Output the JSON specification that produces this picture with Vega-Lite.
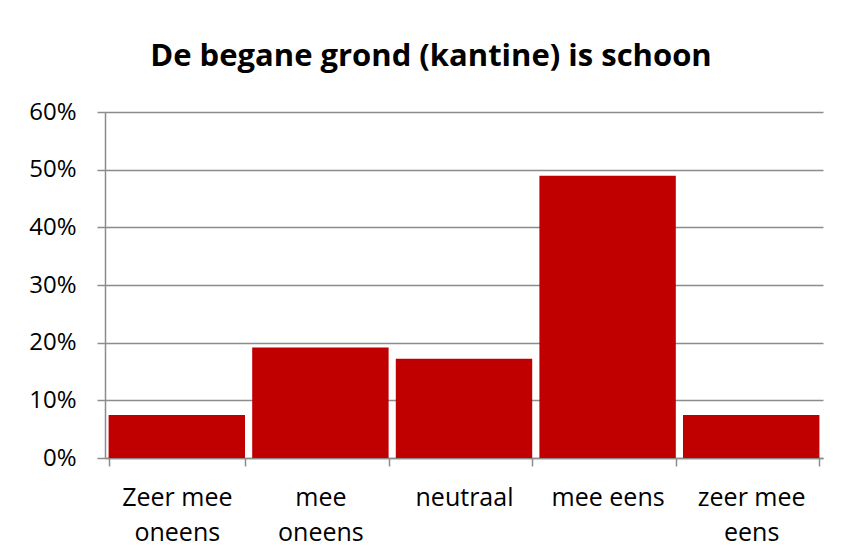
{
  "$schema": "https://vega.github.io/schema/vega-lite/v6.json",
  "width": 718,
  "height": 346,
  "autosize": {"type": "none"},
  "padding": {"left": 105, "top": 112, "right": 19, "bottom": 100},
  "background": "white",
  "title": {
    "text": "De begane grond (kantine) is schoon",
    "font": "Open Sans",
    "fontSize": 31,
    "fontWeight": "bold",
    "color": "#000000",
    "anchor": "middle",
    "dx": -33,
    "offset": 27
  },
  "data": {
    "values": [
      {"cat": "Zeer mee|oneens", "value": 0.0745},
      {"cat": "mee|oneens", "value": 0.1915},
      {"cat": "neutraal", "value": 0.172},
      {"cat": "mee eens", "value": 0.4894},
      {"cat": "zeer mee|eens", "value": 0.0745}
    ]
  },
  "mark": {"type": "bar", "color": "#C00000"},
  "encoding": {
    "x": {
      "field": "cat",
      "type": "nominal",
      "sort": null,
      "scale": {"paddingInner": 0.05, "paddingOuter": 0.025},
      "axis": {
        "title": null,
        "labelAngle": 0,
        "labelExpr": "split(datum.label, '|')",
        "labelFont": "Open Sans",
        "labelFontSize": 25,
        "labelColor": "#000000",
        "labelLineHeight": 35,
        "labelPadding": 19,
        "labelBaseline": "top",
        "tickBand": "extent",
        "tickSize": 8,
        "tickColor": "#8c8c8c",
        "domainColor": "#8c8c8c",
        "domainWidth": 1.5,
        "tickWidth": 1.5
      }
    },
    "y": {
      "field": "value",
      "type": "quantitative",
      "scale": {"domain": [0, 0.6]},
      "axis": {
        "title": null,
        "format": ".0%",
        "values": [0, 0.1, 0.2, 0.3, 0.4, 0.5, 0.6],
        "labelFont": "Open Sans",
        "labelFontSize": 24,
        "labelColor": "#000000",
        "labelPadding": 21,
        "tickSize": 8,
        "tickColor": "#8c8c8c",
        "domainColor": "#8c8c8c",
        "gridColor": "#8c8c8c",
        "grid": true,
        "gridWidth": 1.5,
        "domainWidth": 1.5,
        "tickWidth": 1.5
      }
    }
  },
  "config": {
    "view": {"stroke": null}
  }
}
